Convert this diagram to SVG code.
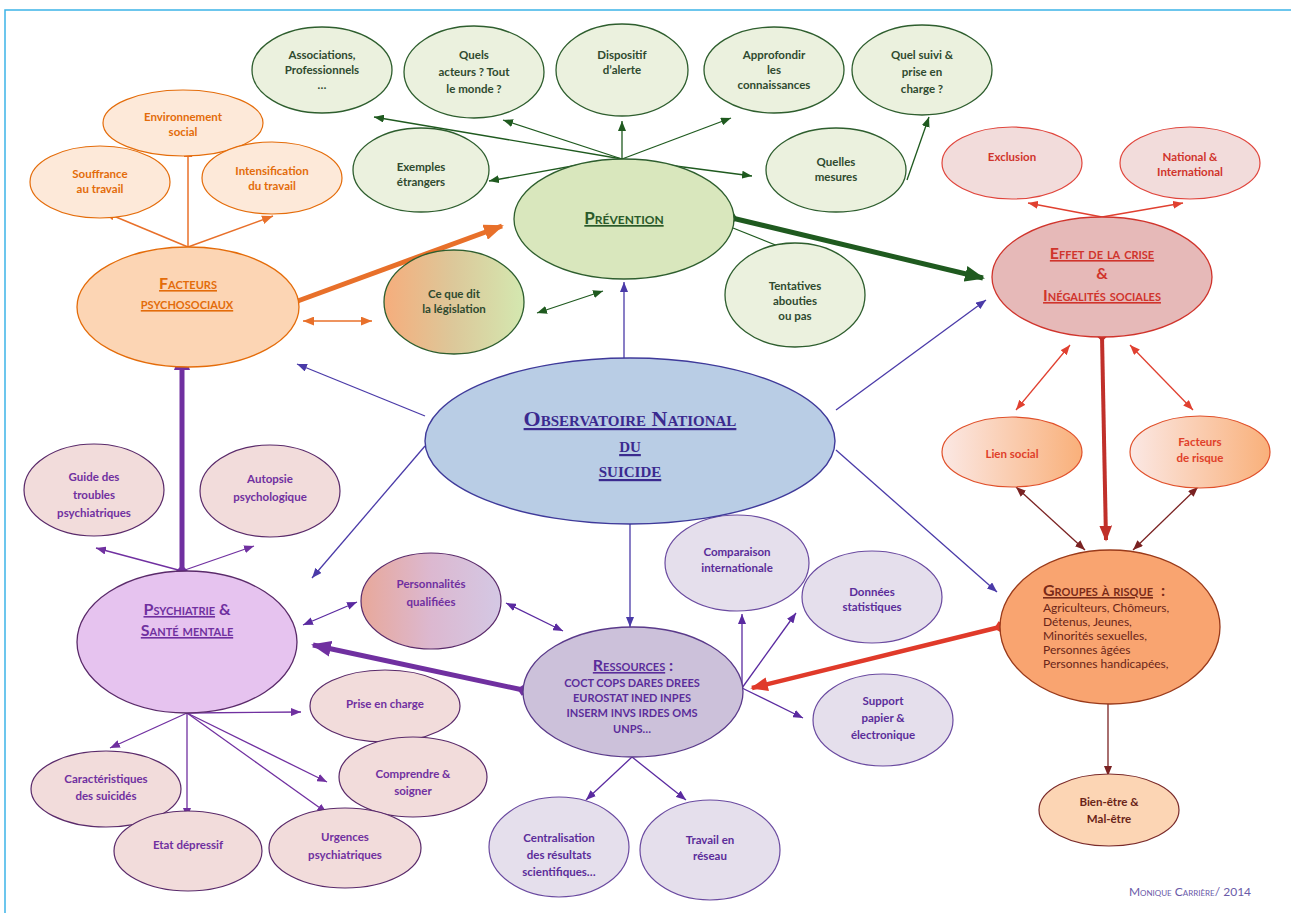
<svg xmlns="http://www.w3.org/2000/svg" width="1291" height="913" viewBox="0 0 1291 913">
<style>
text{font-family:Lato,"Open Sans","Liberation Sans",sans-serif;font-weight:bold;font-size:11.5px;text-anchor:middle}
.sc{font-variant:small-caps}
.u{text-decoration:underline}
.st{text-anchor:start}
.rg{font-weight:normal}
.ser{font-family:"Liberation Serif","Times New Roman",serif;font-size:22px;font-weight:bold}
.tt{font-size:16px}
.tg{fill:#2f4a2f}.to{fill:#e36c0a}.tr{fill:#d0342c}.tp{fill:#7030a0}.tv{fill:#5b2d9a}.tb{fill:#3b2a8f}.td{fill:#6a2418}
.eg{fill:#ebf1de;stroke:#2e5e2e;stroke-width:1.3}
.eo{fill:#fde9d9;stroke:#e46c0a;stroke-width:1.2}
.er{fill:#f2dcdb;stroke:#e0453c;stroke-width:1.2}
.ep{fill:#f2dcdb;stroke:#5a2a6a;stroke-width:1.2}
.ev{fill:#e5dfec;stroke:#6a4aa0;stroke-width:1.2}
.c{fill:none}
.g{stroke:#1f5a1f;stroke-width:1.3}.o{stroke:#e8702a;stroke-width:1.5}.b{stroke:#4a3aa8;stroke-width:1.3}
.p{stroke:#7030a0;stroke-width:1.3}.v{stroke:#5a2aa0;stroke-width:1.3}.r{stroke:#e04030;stroke-width:1.3}.d{stroke:#7a2222;stroke-width:1.3}
.T{stroke-width:5}
</style>
<defs>
<marker id="ag" viewBox="0 0 10 8" refX="10" refY="4" markerWidth="10" markerHeight="8" markerUnits="userSpaceOnUse" orient="auto-start-reverse"><path d="M0,0L10,4L0,8z" fill="#1f5a1f"/></marker>
<marker id="agT" viewBox="0 0 10 8" refX="9" refY="4" markerWidth="20" markerHeight="16" markerUnits="userSpaceOnUse" orient="auto"><path d="M0,0L10,4L0,8z" fill="#1f5a1f"/></marker>
<marker id="dg" viewBox="0 0 10 10" refX="5" refY="5" markerWidth="12" markerHeight="12" markerUnits="userSpaceOnUse" orient="auto"><path d="M0,5L5,0L10,5L5,10z" fill="#1f5a1f"/></marker>
<marker id="ao" viewBox="0 0 10 8" refX="10" refY="4" markerWidth="11" markerHeight="9" markerUnits="userSpaceOnUse" orient="auto-start-reverse"><path d="M0,0L10,4L0,8z" fill="#e8702a"/></marker>
<marker id="aoT" viewBox="0 0 10 8" refX="9" refY="4" markerWidth="20" markerHeight="16" markerUnits="userSpaceOnUse" orient="auto"><path d="M0,0L10,4L0,8z" fill="#e8702a"/></marker>
<marker id="do" viewBox="0 0 10 10" refX="5" refY="5" markerWidth="12" markerHeight="12" markerUnits="userSpaceOnUse" orient="auto"><path d="M0,5L5,0L10,5L5,10z" fill="#e8702a"/></marker>
<marker id="ab" viewBox="0 0 10 8" refX="10" refY="4" markerWidth="10" markerHeight="8" markerUnits="userSpaceOnUse" orient="auto"><path d="M0,0L10,4L0,8z" fill="#4a3aa8"/></marker>
<marker id="ap" viewBox="0 0 10 8" refX="10" refY="4" markerWidth="10" markerHeight="8" markerUnits="userSpaceOnUse" orient="auto-start-reverse"><path d="M0,0L10,4L0,8z" fill="#7030a0"/></marker>
<marker id="apT" viewBox="0 0 10 8" refX="9" refY="4" markerWidth="20" markerHeight="16" markerUnits="userSpaceOnUse" orient="auto"><path d="M0,0L10,4L0,8z" fill="#7030a0"/></marker>
<marker id="dp" viewBox="0 0 10 10" refX="5" refY="5" markerWidth="12" markerHeight="12" markerUnits="userSpaceOnUse" orient="auto"><path d="M0,5L5,0L10,5L5,10z" fill="#7030a0"/></marker>
<marker id="av" viewBox="0 0 10 8" refX="10" refY="4" markerWidth="10" markerHeight="8" markerUnits="userSpaceOnUse" orient="auto-start-reverse"><path d="M0,0L10,4L0,8z" fill="#5a2aa0"/></marker>
<marker id="ar" viewBox="0 0 10 8" refX="10" refY="4" markerWidth="10" markerHeight="8" markerUnits="userSpaceOnUse" orient="auto-start-reverse"><path d="M0,0L10,4L0,8z" fill="#e04030"/></marker>
<marker id="arT" viewBox="0 0 10 8" refX="9" refY="4" markerWidth="18" markerHeight="14" markerUnits="userSpaceOnUse" orient="auto"><path d="M0,0L10,4L0,8z" fill="#e03a2a"/></marker>
<marker id="dr" viewBox="0 0 10 10" refX="5" refY="5" markerWidth="12" markerHeight="12" markerUnits="userSpaceOnUse" orient="auto"><path d="M0,5L5,0L10,5L5,10z" fill="#e03a2a"/></marker>
<marker id="adT" viewBox="0 0 10 8" refX="9" refY="4" markerWidth="16" markerHeight="13" markerUnits="userSpaceOnUse" orient="auto"><path d="M0,0L10,4L0,8z" fill="#c0302a"/></marker>
<marker id="ddr" viewBox="0 0 10 10" refX="5" refY="5" markerWidth="11" markerHeight="11" markerUnits="userSpaceOnUse" orient="auto"><path d="M0,5L5,0L10,5L5,10z" fill="#c0302a"/></marker>
<marker id="ad" viewBox="0 0 10 8" refX="10" refY="4" markerWidth="10" markerHeight="8" markerUnits="userSpaceOnUse" orient="auto-start-reverse"><path d="M0,0L10,4L0,8z" fill="#7a2222"/></marker>
<linearGradient id="gLeg" x1="0" x2="1" y1="0" y2="0"><stop offset="0" stop-color="#f6ad7c"/><stop offset="0.5" stop-color="#dcc89a"/><stop offset="1" stop-color="#d4e8b0"/></linearGradient>
<linearGradient id="gPers" x1="0" x2="1" y1="0" y2="0"><stop offset="0" stop-color="#e8a89a"/><stop offset="0.5" stop-color="#dcb8d0"/><stop offset="1" stop-color="#d4c8e4"/></linearGradient>
<linearGradient id="gLien" x1="0" x2="1" y1="0" y2="0"><stop offset="0" stop-color="#fbe8e4"/><stop offset="1" stop-color="#f9b07a"/></linearGradient>
</defs>
<rect width="1291" height="913" fill="#ffffff"/>
<path d="M5,913V10H1291" fill="none" stroke="#3cb4e8" stroke-width="1.5"/>

<g id="connectors" class="c">
<path class="g" d="M622,159L374,117" marker-end="url(#ag)"/>
<path class="g" d="M622,159L503,120" marker-end="url(#ag)"/>
<path class="g" d="M622,159L622,121" marker-end="url(#ag)"/>
<path class="g" d="M622,159L731,118" marker-end="url(#ag)"/>
<path class="g" d="M600,161L489,181" marker-end="url(#ag)"/>
<path class="g" d="M622,159L752,176" marker-end="url(#ag)"/>
<path class="g" d="M907,180L929,117" marker-end="url(#ag)"/>
<path class="g" d="M733,228L793,252" marker-end="url(#ag)"/>
<path class="g T" d="M732,218L983,278" marker-start="url(#dg)" marker-end="url(#agT)"/>
<path class="g" d="M537,313L603,291" marker-start="url(#ag)" marker-end="url(#ag)"/>
<path class="o" d="M188,247L188,146" marker-end="url(#ao)"/>
<path class="o" d="M188,247L104,212" marker-end="url(#ao)"/>
<path class="o" d="M188,247L273,216" marker-end="url(#ao)"/>
<path class="o T" d="M295,302L502,226" marker-start="url(#do)" marker-end="url(#aoT)"/>
<path class="o" d="M303,321L372,321" marker-start="url(#ao)" marker-end="url(#ao)"/>
<path class="b" d="M624,358L624,282" marker-end="url(#ab)"/>
<path class="b" d="M425,416L297,364" marker-end="url(#ab)"/>
<path class="b" d="M425,446L312,578" marker-end="url(#ab)"/>
<path class="b" d="M836,410L986,300" marker-end="url(#ab)"/>
<path class="b" d="M836,450L997,592" marker-end="url(#ab)"/>
<path class="b" d="M630,524L630,627" marker-end="url(#ab)"/>
<path class="p T" d="M182,571L182,352" marker-start="url(#dp)" marker-end="url(#apT)"/>
<path class="p" d="M182,571L96,548" marker-end="url(#ap)"/>
<path class="p" d="M182,571L254,546" marker-end="url(#ap)"/>
<path class="v" d="M303,625L357,602" marker-start="url(#av)" marker-end="url(#av)"/>
<path class="p T" d="M523,690L313,645" marker-start="url(#dp)" marker-end="url(#apT)"/>
<path class="p" d="M187,713L301,712" marker-end="url(#ap)"/>
<path class="p" d="M187,713L110,748" marker-end="url(#ap)"/>
<path class="p" d="M187,713L187,818" marker-end="url(#ap)"/>
<path class="p" d="M187,713L327,782" marker-end="url(#ap)"/>
<path class="p" d="M187,713L327,813" marker-end="url(#ap)"/>
<path class="v" d="M506,603L563,631" marker-start="url(#av)" marker-end="url(#av)"/>
<path class="v" d="M742,688L742,614" marker-end="url(#av)"/>
<path class="v" d="M742,688L796,613" marker-end="url(#av)"/>
<path class="v" d="M742,688L803,718" marker-end="url(#av)"/>
<path class="v" d="M632,757L586,800" marker-end="url(#av)"/>
<path class="v" d="M632,757L686,800" marker-end="url(#av)"/>
<path class="r" d="M1000,627L752,688" style="stroke:#e03a2a;stroke-width:4.5" marker-start="url(#dr)" marker-end="url(#arT)"/>
<path class="r" d="M1102,217L1028,203" marker-end="url(#ar)"/>
<path class="r" d="M1102,217L1183,203" marker-end="url(#ar)"/>
<path class="r" d="M1102,336L1106,540" style="stroke:#c0302a;stroke-width:4" marker-start="url(#ddr)" marker-end="url(#adT)"/>
<path class="r" d="M1070,345L1016,410" marker-start="url(#ar)" marker-end="url(#ar)"/>
<path class="r" d="M1130,345L1193,410" marker-start="url(#ar)" marker-end="url(#ar)"/>
<path class="d" d="M1016,487L1085,550" marker-start="url(#ad)" marker-end="url(#ad)"/>
<path class="d" d="M1198,487L1133,550" marker-start="url(#ad)" marker-end="url(#ad)"/>
<path class="d" d="M1108,704L1108,776" marker-end="url(#ad)"/>
</g>

<g id="n-associations"><ellipse class="eg" cx="322" cy="70" rx="70" ry="43"/><text class="tg" x="322" y="59">Associations,</text><text class="tg" x="322" y="74">Professionnels</text><text class="tg" x="322" y="89">…</text></g>
<g id="n-acteurs"><ellipse class="eg" cx="474" cy="72" rx="70" ry="46"/><text class="tg" x="474" y="59">Quels</text><text class="tg" x="474" y="76">acteurs ? Tout</text><text class="tg" x="474" y="93">le monde ?</text></g>
<g id="n-alerte"><ellipse class="eg" cx="622" cy="70" rx="66" ry="46"/><text class="tg" x="622" y="59">Dispositif</text><text class="tg" x="622" y="74">d’alerte</text></g>
<g id="n-approfondir"><ellipse class="eg" cx="774" cy="70" rx="70" ry="43"/><text class="tg" x="774" y="59">Approfondir</text><text class="tg" x="774" y="74">les</text><text class="tg" x="774" y="89">connaissances</text></g>
<g id="n-suivi"><ellipse class="eg" cx="922" cy="70" rx="70" ry="45"/><text class="tg" x="922" y="59">Quel suivi &amp;</text><text class="tg" x="922" y="76">prise en</text><text class="tg" x="922" y="93">charge ?</text></g>
<g id="n-exemples"><ellipse class="eg" cx="421" cy="170" rx="68" ry="42"/><text class="tg" x="421" y="171">Exemples</text><text class="tg" x="421" y="186">étrangers</text></g>
<g id="n-mesures"><ellipse class="eg" cx="836" cy="170" rx="70" ry="42"/><text class="tg" x="836" y="166">Quelles</text><text class="tg" x="836" y="181">mesures</text></g>
<g id="n-tentatives"><ellipse class="eg" cx="795" cy="295" rx="70" ry="52"/><text class="tg" x="795" y="290">Tentatives</text><text class="tg" x="795" y="305">abouties</text><text class="tg" x="795" y="320">ou pas</text></g>
<g id="n-prevention"><ellipse cx="624" cy="219" rx="110" ry="60" fill="#d9e7bd" stroke="#2e5e2e" stroke-width="1.3"/><text class="tg sc u" x="624" y="224" style="font-size:17px;fill:#2a5a2a">Prévention</text></g>
<g id="n-legislation"><ellipse cx="454" cy="302" rx="70" ry="52" fill="url(#gLeg)" stroke="#2e5e2e" stroke-width="1.3"/><text class="tg" x="454" y="298">Ce que dit</text><text class="tg" x="454" y="313">la législation</text></g>

<g id="n-environnement"><ellipse class="eo" cx="183" cy="123" rx="80" ry="33"/><text class="to" x="183" y="121">Environnement</text><text class="to" x="183" y="136">social</text></g>
<g id="n-souffrance"><ellipse class="eo" cx="100" cy="182" rx="70" ry="36"/><text class="to" x="100" y="178">Souffrance</text><text class="to" x="100" y="193">au travail</text></g>
<g id="n-intensification"><ellipse class="eo" cx="272" cy="178" rx="70" ry="36"/><text class="to" x="272" y="175">Intensification</text><text class="to" x="272" y="190">du travail</text></g>
<g id="n-facteurs"><ellipse cx="188" cy="307" rx="111" ry="60" fill="#fcd5b4" stroke="#e46c0a" stroke-width="1.3"/><text class="to sc u" x="188" y="289" style="font-size:16px">Facteurs</text><text class="to sc u" x="187" y="309" style="font-size:16px">psychosociaux</text></g>

<g id="n-exclusion"><ellipse class="er" cx="1012" cy="163" rx="70" ry="36"/><text class="tr" x="1012" y="161">Exclusion</text></g>
<g id="n-national"><ellipse class="er" cx="1190" cy="163" rx="70" ry="36"/><text class="tr" x="1190" y="161">National &amp;</text><text class="tr" x="1190" y="176">International</text></g>
<g id="n-effet"><ellipse cx="1102" cy="277" rx="110" ry="60" fill="#e6b9b8" stroke="#d0342c" stroke-width="1.3"/><text class="tr sc u tt" x="1102" y="259">Effet de la crise</text><text class="tr tt" x="1102" y="279">&amp;</text><text class="tr sc u tt" x="1102" y="301">Inégalités sociales</text></g>
<g id="n-lien"><ellipse cx="1012" cy="452" rx="70" ry="35" fill="url(#gLien)" stroke="#e0502a" stroke-width="1.2"/><text class="tr" x="1012" y="458" style="fill:#e0402a">Lien social</text></g>
<g id="n-facteursrisque"><ellipse cx="1200" cy="452" rx="70" ry="36" fill="url(#gLien)" stroke="#e0502a" stroke-width="1.2"/><text class="tr" x="1200" y="446" style="fill:#e0402a">Facteurs</text><text class="tr" x="1200" y="462" style="fill:#e0402a">de risque</text></g>
<g id="n-groupes"><ellipse cx="1110" cy="627" rx="110" ry="77" fill="#f9a470" stroke="#9a3a1a" stroke-width="1.3"/><text class="td sc u tt st" x="1043" y="596" style="fill:#7a2a18">Groupes à risque</text><text class="td tt st" x="1161" y="596" style="fill:#7a2a18">:</text><text class="td st rg" x="1043" y="612" style="font-size:12px">Agriculteurs, Chômeurs,</text><text class="td st rg" x="1043" y="626" style="font-size:12px">Détenus, Jeunes,</text><text class="td st rg" x="1043" y="640" style="font-size:12px">Minorités sexuelles,</text><text class="td st rg" x="1043" y="654" style="font-size:12px">Personnes âgées</text><text class="td st rg" x="1043" y="668" style="font-size:12px">Personnes handicapées,</text></g>
<g id="n-bienetre"><ellipse cx="1109" cy="810" rx="70" ry="36" fill="#fcd5b4" stroke="#7a2a2a" stroke-width="1.2"/><text class="td" x="1109" y="806">Bien-être &amp;</text><text class="td" x="1109" y="823">Mal-être</text></g>

<g id="n-guide"><ellipse class="ep" cx="94" cy="490" rx="70" ry="46"/><text class="tp" x="94" y="481">Guide des</text><text class="tp" x="94" y="499">troubles</text><text class="tp" x="94" y="517">psychiatriques</text></g>
<g id="n-autopsie"><ellipse class="ep" cx="270" cy="491" rx="70" ry="46"/><text class="tp" x="270" y="483">Autopsie</text><text class="tp" x="270" y="501">psychologique</text></g>
<g id="n-psychiatrie"><ellipse cx="187" cy="642" rx="110" ry="71" fill="#e6c3ef" stroke="#5a2a6a" stroke-width="1.3"/><text class="tp tt" x="187" y="615"><tspan class="sc u">Psychiatrie</tspan> &amp;</text><text class="tp sc u tt" x="187" y="636">Santé mentale</text></g>
<g id="n-personnalites"><ellipse cx="431" cy="601" rx="70" ry="48" fill="url(#gPers)" stroke="#5a2a6a" stroke-width="1.2"/><text class="tp" x="431" y="588">Personnalités</text><text class="tp" x="431" y="606">qualifiées</text></g>
<g id="n-prise"><ellipse class="ep" cx="385" cy="706" rx="75" ry="36"/><text class="tp" x="385" y="708">Prise en charge</text></g>
<g id="n-comprendre"><ellipse class="ep" cx="413" cy="777" rx="74" ry="40"/><text class="tp" x="413" y="778">Comprendre &amp;</text><text class="tp" x="413" y="795">soigner</text></g>
<g id="n-caracteristiques"><ellipse class="ep" cx="106" cy="789" rx="75" ry="38"/><text class="tp" x="106" y="783">Caractéristiques</text><text class="tp" x="106" y="800">des suicidés</text></g>
<g id="n-etat"><ellipse class="ep" cx="188" cy="851" rx="74" ry="40"/><text class="tp" x="188" y="849">Etat dépressif</text></g>
<g id="n-urgences"><ellipse class="ep" cx="345" cy="848" rx="76" ry="40"/><text class="tp" x="345" y="841">Urgences</text><text class="tp" x="345" y="859">psychiatriques</text></g>

<g id="n-ressources"><ellipse cx="633" cy="692" rx="110" ry="65" fill="#ccc1da" stroke="#5a3a8a" stroke-width="1.3"/><text class="tv sc u tt" x="629" y="671">Ressources</text><text class="tv tt st" x="669" y="671">:</text><text class="tv" x="632" y="687" style="font-size:11px">COCT COPS DARES DREES</text><text class="tv" x="632" y="702" style="font-size:11px">EUROSTAT INED INPES</text><text class="tv" x="632" y="717" style="font-size:11px">INSERM INVS IRDES OMS</text><text class="tv" x="632" y="733" style="font-size:11px">UNPS…</text></g>
<g id="n-comparaison"><ellipse class="ev" cx="737" cy="563" rx="72" ry="48"/><text class="tv" x="737" y="556">Comparaison</text><text class="tv" x="737" y="572">internationale</text></g>
<g id="n-donnees"><ellipse class="ev" cx="872" cy="597" rx="70" ry="46"/><text class="tv" x="872" y="596">Données</text><text class="tv" x="872" y="611">statistiques</text></g>
<g id="n-support"><ellipse class="ev" cx="883" cy="720" rx="70" ry="46"/><text class="tv" x="883" y="705">Support</text><text class="tv" x="883" y="722">papier  &amp;</text><text class="tv" x="883" y="739">électronique</text></g>
<g id="n-centralisation"><ellipse class="ev" cx="559" cy="847" rx="70" ry="50"/><text class="tv" x="559" y="842">Centralisation</text><text class="tv" x="559" y="859">des résultats</text><text class="tv" x="559" y="876">scientifiques…</text></g>
<g id="n-travail"><ellipse class="ev" cx="710" cy="850" rx="70" ry="50"/><text class="tv" x="710" y="844">Travail en</text><text class="tv" x="710" y="860">réseau</text></g>

<g id="n-observatoire"><ellipse cx="630" cy="441" rx="205" ry="83" fill="#b9cde5" stroke="#3f3a9a" stroke-width="1.4"/><text class="tb sc u ser" x="630" y="426">Observatoire National</text><text class="tb sc u ser" x="630" y="452">du</text><text class="tb sc u ser" x="630" y="477">suicide</text></g>

<g id="signature"><text class="sc rg" x="1190" y="896" style="font-size:12px;fill:#6a5aa8">Monique Carrière/ 2014</text></g>
</svg>
